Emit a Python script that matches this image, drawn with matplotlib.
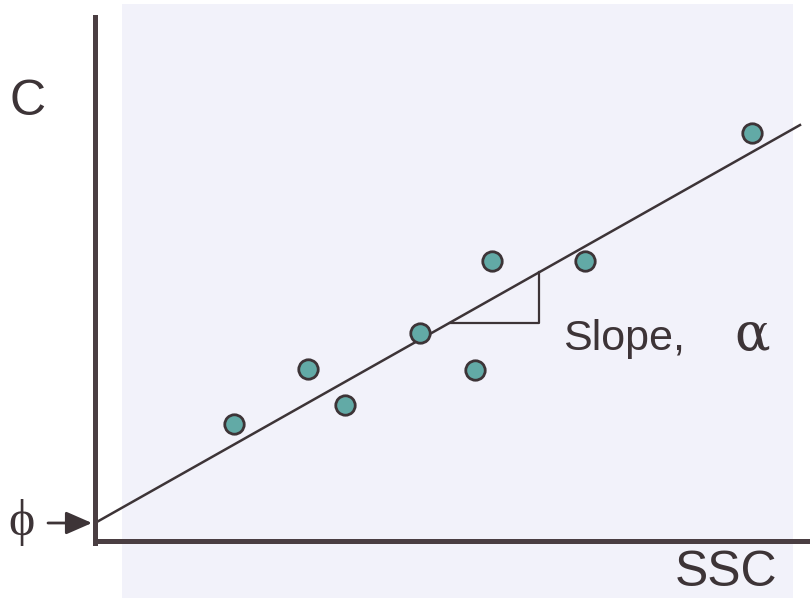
import matplotlib.pyplot as plt
from matplotlib.patches import Rectangle

# sketch units: 1 unit = 10 px, origin at the axes corner
ssc = [13.9, 21.3, 25.0, 32.5, 38.0, 39.7, 49.0, 65.7]
c = [11.7, 17.2, 13.6, 20.8, 17.1, 28.0, 28.0, 40.8]

phi = 1.8      # intercept
alpha = 0.5645  # slope
line_x = [0, 70.5]
tri_x = [35.5, 44.4]   # slope triangle, left and right end

ink = '#3d3437'
axis_col = '#4a3e42'

fig = plt.figure(figsize=(8.1, 5.98), dpi=100)
ax = fig.add_axes([0, 0, 1, 1])
ax.set_xlim(-9.5, 71.5)
ax.set_ylim(-5.7, 54.1)

# light lavender panel behind the plot (scan background)
ax.add_patch(Rectangle((0.151, 0), 0.828, 0.993, transform=ax.transAxes,
                       facecolor='#f2f2fa', edgecolor='none', zorder=0))

for s in ['top', 'right']:
    ax.spines[s].set_visible(False)
ax.spines['left'].set_position(('data', 0))
ax.spines['bottom'].set_position(('data', 0))
ax.spines['left'].set_bounds(-0.2, 52.4)
ax.spines['bottom'].set_bounds(0, 71.5)
for s in ['left', 'bottom']:
    ax.spines[s].set_linewidth(3.6)
    ax.spines[s].set_color(axis_col)
    ax.spines[s].set_zorder(3)
ax.set_xticks([])
ax.set_yticks([])
ax.patch.set_alpha(0)

# fitted line
ax.plot(line_x, [phi + alpha * v for v in line_x], color=ink, lw=1.8, zorder=2)

# slope triangle
y_lo = phi + alpha * tri_x[0]
y_hi = phi + alpha * tri_x[1]
ax.plot([tri_x[0], tri_x[1], tri_x[1]], [y_lo, y_lo, y_hi], color=ink, lw=1.6, zorder=2)

# data points
ax.plot(ssc, c, 'o', ms=14, mfc='#62aaa6', mec=ink, mew=2, zorder=4)

# intercept arrow
ax.annotate('', xy=(-0.3, phi), xytext=(-4.7, phi),
            arrowprops=dict(arrowstyle='-|>,head_length=0.8,head_width=0.35',
                            mutation_scale=20, lw=2, color=ink,
                            shrinkA=0, shrinkB=0), zorder=5)

sans = ['Liberation Sans', 'DejaVu Sans']
serif = ['Liberation Serif', 'DejaVu Serif']
ax.text(-7.4, 1.9, 'ϕ', family=serif, fontsize=36, color=ink, ha='center', va='center')
ax.text(-6.7, 43.9, 'C', family=sans, fontsize=36, color=ink, ha='center', va='center')
ax.text(68.2, -4.5, 'SSC', family=sans, fontsize=36, color=ink, ha='right', va='baseline')
ax.text(46.8, 19.1, 'Slope,', family=sans, fontsize=31, color=ink, ha='left', va='baseline')
ax.text(67.5, 19.1, 'α', family=['DejaVu Serif'], fontsize=38, color=ink, ha='right', va='baseline')

fig.savefig('out.png', dpi=100)
